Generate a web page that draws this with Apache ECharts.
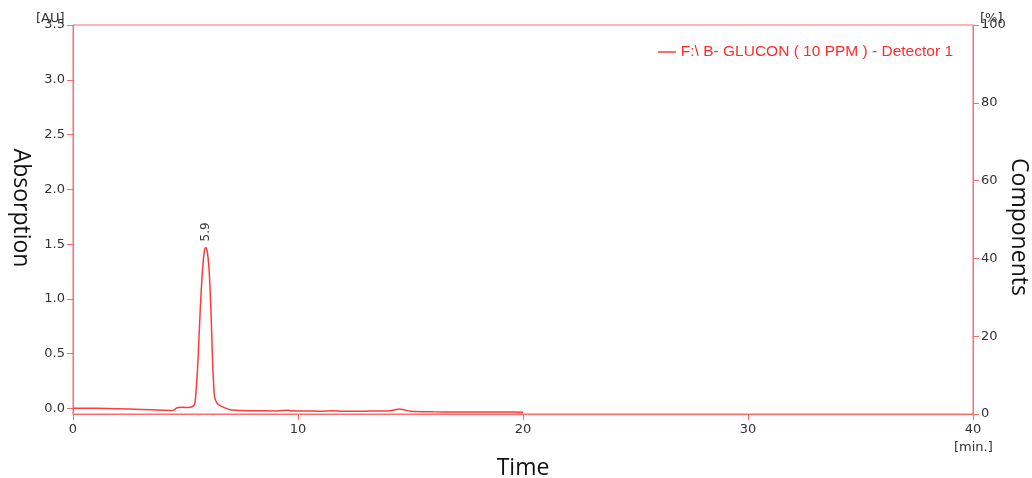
<!DOCTYPE html>
<html>
<head>
<meta charset="utf-8">
<script src="https://cdn.jsdelivr.net/npm/echarts@6/dist/echarts.min.js"></script>
<style>html,body{margin:0;padding:0;background:#fff}#c{width:1032px;height:478px}</style>
</head>
<body>
<div id="c"></div>
<script>
// Chromatogram: time [min] vs absorption [AU]
const timeMin = [0, 1, 2, 3, 4, 4.4, 4.5, 4.6, 4.8, 5.0, 5.2, 5.3, 5.4, 5.45, 5.5, 5.55, 5.6, 5.65, 5.7, 5.75, 5.8, 5.85, 5.9, 5.95, 6.0, 6.05, 6.1, 6.15, 6.2, 6.25, 6.3, 6.4, 6.5, 6.7, 7.0, 7.5, 8, 9, 9.3, 9.5, 9.7, 10, 11, 11.5, 11.8, 12, 13, 13.4, 14, 14.3, 14.5, 14.7, 15, 16, 17, 18, 19, 20];
const absorption = [0.003, 0.002, -0.002, -0.008, -0.015, -0.018, -0.012, 0.005, 0.012, 0.010, 0.012, 0.018, 0.035, 0.11, 0.25, 0.42, 0.65, 0.88, 1.08, 1.24, 1.37, 1.45, 1.47, 1.45, 1.38, 1.26, 1.05, 0.78, 0.45, 0.22, 0.10, 0.05, 0.03, 0.01, -0.012, -0.018, -0.020, -0.022, -0.018, -0.016, -0.021, -0.022, -0.024, -0.020, -0.022, -0.026, -0.025, -0.022, -0.022, -0.012, -0.005, -0.012, -0.025, -0.030, -0.031, -0.031, -0.032, -0.033];
const leftTicks = [0, 0.5, 1.0, 1.5, 2.0, 2.5, 3.0, 3.5];
const seriesName = 'F:\\ B- GLUCON ( 10 PPM ) - Detector 1';
const peakTime = 5.9;
const peakHeight = 1.47;
const peakLabel = '5.9';

const axisColor = '#ff6a6a';
const lineColor = '#ff3a3a';
const textColor = '#333';
const tickFont = 'DejaVu Sans';
const nameFont = '23px "Open Sans"';

const data = timeMin.map((t, i) => [t, absorption[i]]);

const chart = echarts.init(document.getElementById('c'), null, { renderer: 'canvas' });
chart.setOption({
  animation: false,
  backgroundColor: '#fff',
  grid: { left: 73, right: 59, top: 25, bottom: 64, show: true, borderColor: axisColor, borderWidth: 1,
          containLabel: false, outerBoundsMode: 'none' },
  legend: {
    right: 74, top: 39,
    icon: 'rect', itemWidth: 18, itemHeight: 1.5, itemGap: 10,
    textStyle: { color: '#ff2b2b', fontFamily: 'Liberation Sans', fontSize: 15.5 },
    data: [seriesName]
  },
  xAxis: {
    type: 'value', min: 0, max: 40, interval: 10,
    name: 'Time', nameLocation: 'middle', nameGap: 43,
    nameTextStyle: { fontFamily: 'Open Sans', fontSize: 23, color: '#111' },
    axisLine: { show: true, onZero: false, lineStyle: { color: axisColor, width: 1 } },
    axisTick: { show: true, length: 6, lineStyle: { color: axisColor } },
    axisLabel: { color: textColor, fontFamily: tickFont, fontSize: 13, margin: 9 },
    splitLine: { show: false }
  },
  yAxis: [
    {
      type: 'value', min: -0.05, max: 3.5, position: 'left',
      axisLine: { show: true, onZero: false, lineStyle: { color: axisColor, width: 1 } },
      axisTick: { show: true, length: 6, lineStyle: { color: axisColor }, customValues: leftTicks },
      axisLabel: { color: textColor, fontFamily: tickFont, fontSize: 13, margin: 8,
                   customValues: leftTicks, formatter: v => v.toFixed(1) },
      splitLine: { show: false }
    },
    {
      type: 'value', min: 0, max: 100, interval: 20, position: 'right',
      axisLine: { show: true, onZero: false, lineStyle: { color: axisColor, width: 1 } },
      axisTick: { show: true, length: 6, lineStyle: { color: axisColor } },
      axisLabel: { color: textColor, fontFamily: tickFont, fontSize: 13, margin: 8 },
      splitLine: { show: false }
    }
  ],
  graphic: [
    { type: 'text', x: 21, y: 208, rotation: -Math.PI / 2,
      style: { text: 'Absorption', fill: '#111', font: nameFont, align: 'center', verticalAlign: 'middle' } },
    { type: 'text', x: 1019, y: 227, rotation: -Math.PI / 2,
      style: { text: 'Components', fill: '#111', font: nameFont, align: 'center', verticalAlign: 'middle' } },
    { type: 'text', left: 36, top: 12, style: { text: '[AU]', fill: textColor, font: '13px "DejaVu Sans"' } },
    { type: 'text', left: 980, top: 12, style: { text: '[%]', fill: textColor, font: '13px "DejaVu Sans"' } },
    { type: 'text', left: 954, top: 441, style: { text: '[min.]', fill: textColor, font: '13px "DejaVu Sans"' } }
  ],
  series: [{
    name: seriesName,
    type: 'line',
    yAxisIndex: 0,
    data: data,
    showSymbol: false,
    symbol: 'none',
    smooth: 0.3,
    lineStyle: { color: lineColor, width: 1.5 },
    itemStyle: { color: lineColor },
    markPoint: {
      symbol: 'circle', symbolSize: 0, silent: true,
      data: [{ coord: [peakTime, peakHeight], value: peakLabel }],
      label: { show: true, formatter: peakLabel, rotate: 90, position: 'top', distance: 6,
               align: 'left', verticalAlign: 'middle', color: textColor, fontFamily: tickFont, fontSize: 12 }
    }
  }]
});
</script>
</body>
</html>
